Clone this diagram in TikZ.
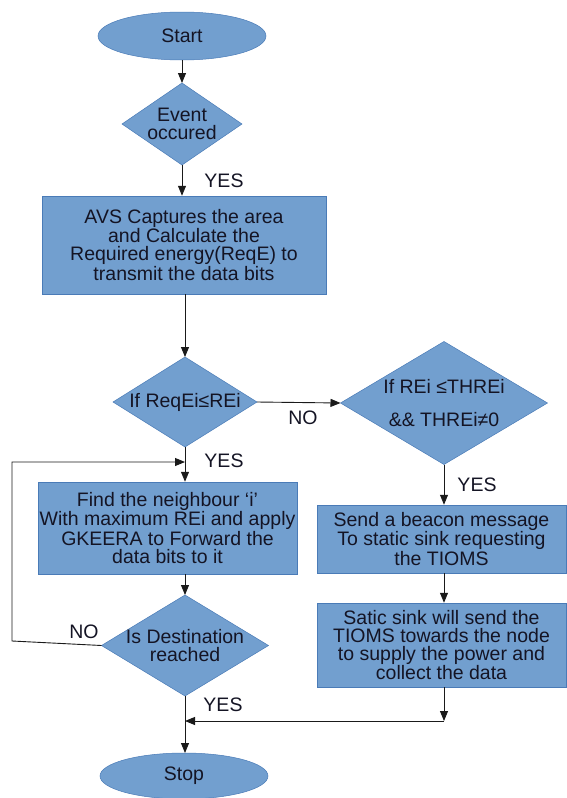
\documentclass[tikz,border=0pt]{standalone}
\usepackage{fontspec}
\setmainfont{Liberation Sans}
\usetikzlibrary{shapes.geometric,arrows.meta,calc}
\definecolor{boxblue}{HTML}{729FCF}
\definecolor{edgeblue}{HTML}{4A7BB7}
\definecolor{ink}{HTML}{141424}
\definecolor{wire}{HTML}{1A1A1A}
\begin{document}
\begin{tikzpicture}[x=1pt,y=-1pt,
  txt/.style={font=\fontsize{19.5}{18}\selectfont, text=ink, align=center, inner sep=0pt},
  box/.style={rectangle, fill=boxblue, draw=edgeblue, line width=0.5pt, txt},
  dia/.style={diamond, fill=boxblue, draw=edgeblue, line width=0.5pt, inner sep=0pt, outer sep=0pt},
  oval/.style={ellipse, fill=boxblue, draw=edgeblue, line width=0.5pt, inner sep=0pt, outer sep=0pt},
  arr/.style={draw=wire, line width=0.9pt, -{Triangle[length=10pt,width=8pt]}},
  wireline/.style={draw=wire, line width=0.9pt}]

\useasboundingbox (0,0) rectangle (566,798);

% main column
\node[oval, minimum width=168pt, minimum height=48pt, label={[txt]center:Start}] (start) at (182,36) {};
\node[dia, minimum width=120pt, minimum height=82pt, label={[txt]center:{Event\\occured}}] (event) at (182,124) {};
\node[box, minimum width=284pt, minimum height=98pt] (avs) at (184,245)
  {AVS Captures the area\\and Calculate the\\Required energy(ReqE) to\\transmit the data bits};
\node[dia, minimum width=144pt, minimum height=90pt, label={[txt]center:If ReqEi≤REi}] (reqei) at (185,402) {};
\node[box, minimum width=259pt, minimum height=92pt] (find) at (167.5,528)
  {Find the neighbour ‘i’\\With maximum REi and apply\\GKEERA to Forward the\\data bits to it};
\node[dia, minimum width=167pt, minimum height=101pt, label={[txt]center:{Is Destination\\reached}}] (dest) at (185,645.5) {};
\node[oval, minimum width=168pt, minimum height=46pt, label={[txt]center:Stop}] (stop) at (184,776) {};

% right column
\node[dia, minimum width=207pt, minimum height=123pt, label={[txt]center:{If REi ≤THREi\\[15pt]\&\& THREi≠0}}] (thr) at (444,403) {};
\node[box, minimum width=249pt, minimum height=68pt] (send) at (441.5,539)
  {Send a beacon message\\To static sink requesting\\the TIOMS};
\node[box, minimum width=249pt, minimum height=84pt] (satic) at (441.5,645)
  {Satic sink will send the\\TIOMS towards the node\\to supply the power and\\collect the data};

% labels
\node[txt] (yes1) at (224,181) {YES};
\node[txt] (no1) at (303,418) {NO};
\node[txt] (yes2) at (224,461) {YES};
\node[txt] (yes3) at (477,485) {YES};
\node[txt] (no2) at (84,632) {NO};
\node[txt] (yes4) at (223,705) {YES};

% helper coordinates
\coordinate (lp) at (185,462);
\coordinate (lc1) at (12,641);
\coordinate (lc2) at (12,462);
\coordinate (mg) at (444,721);
\coordinate (mgin) at (185,721);

% connectors
\draw[arr] (start.south) -- (event.north);
\draw[arr] (event.south) -- (event.south |- avs.north);
\draw[arr] (reqei.north |- avs.south) -- (reqei.north);
\draw[arr] (reqei.east) -- (thr.west);
\draw[arr] (reqei.south) -- (reqei.south |- find.north);
\draw[arr] (dest.north |- find.south) -- (dest.north);
\draw[arr] (dest.west) -- (lc1) -- (lc2) -- (lp);
\draw[arr] (dest.south) -- (dest.south |- stop.north);
\draw[arr] (thr.south) -- (thr.south |- send.north);
\draw[arr] (thr.south |- send.south) -- (thr.south |- satic.north);
\draw[arr] (thr.south |- satic.south) -- (mg);
\draw[arr] (mg) -- (mgin);
\end{tikzpicture}
\end{document}
